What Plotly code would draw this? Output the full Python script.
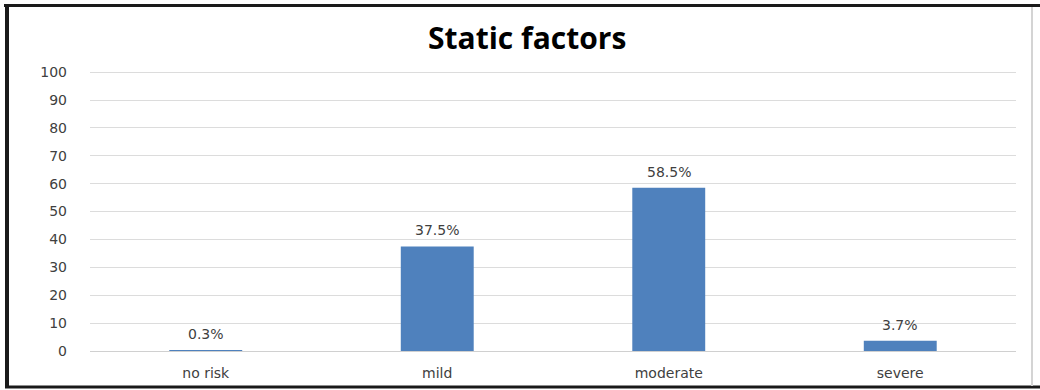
import plotly.graph_objects as go

categories = ["no risk", "mild", "moderate", "severe"]
values = [0.3, 37.5, 58.5, 3.7]
labels = ["0.3%", "37.5%", "58.5%", "3.7%"]
y_ticks = [0, 10, 20, 30, 40, 50, 60, 70, 80, 90, 100]

W, H = 1040, 390
L, R, T, B = 90, 24, 71, 39
pw, ph = W - L - R, H - T - B

def px(x):
    return (x - L) / pw

def py(y):
    return (H - B - y) / ph

fig = go.Figure()
fig.add_trace(go.Bar(
    x=categories, y=values, width=0.315,
    marker=dict(color="#4F81BD", line=dict(width=0)),
    hoverinfo="skip",
))

for c, v, t in zip(categories, values, labels):
    fig.add_annotation(x=c, y=v, text=t, showarrow=False, yanchor="bottom",
                       yshift=6, font=dict(family="DejaVu Sans", size=14, color="#404040"))

fig.add_annotation(xref="paper", yref="paper", x=px(527), y=py(37), text="<b>Static factors</b>",
                   showarrow=False, xanchor="center", yanchor="middle",
                   font=dict(family="Open Sans", size=30, color="#000000"))

shapes = [
    dict(type="line", xref="paper", yref="paper", x0=px(4), x1=px(1040), y0=py(5.5), y1=py(5.5),
         line=dict(color="#1a1a1a", width=3)),
    dict(type="line", xref="paper", yref="paper", x0=px(7), x1=px(7), y0=py(4), y1=py(388),
         line=dict(color="#1a1a1a", width=4)),
    dict(type="line", xref="paper", yref="paper", x0=px(5), x1=px(1040), y0=py(387), y1=py(387),
         line=dict(color="#1a1a1a", width=3)),
    dict(type="line", xref="paper", yref="paper", x0=px(1032), x1=px(1032), y0=py(7), y1=py(386),
         line=dict(color="#d4d4d4", width=2)),
]

fig.update_layout(
    width=W, height=H,
    margin=dict(l=L, r=R, t=T, b=B, pad=0, autoexpand=False),
    paper_bgcolor="white", plot_bgcolor="white",
    showlegend=False,
    shapes=shapes,
    xaxis=dict(showgrid=False, showline=False, zeroline=False, ticks="",
               ticklabelstandoff=12, automargin=False,
               tickfont=dict(family="DejaVu Sans", size=14, color="#404040")),
    yaxis=dict(range=[0, 100.4], tickvals=y_ticks, showgrid=True, gridcolor="#dcdcdc",
               gridwidth=1, zeroline=True, zerolinecolor="#d0d0d0", zerolinewidth=1,
               showline=False, ticks="", ticklabelstandoff=22, automargin=False,
               tickfont=dict(family="DejaVu Sans", size=14, color="#404040")),
)

fig.write_html("out.html")
